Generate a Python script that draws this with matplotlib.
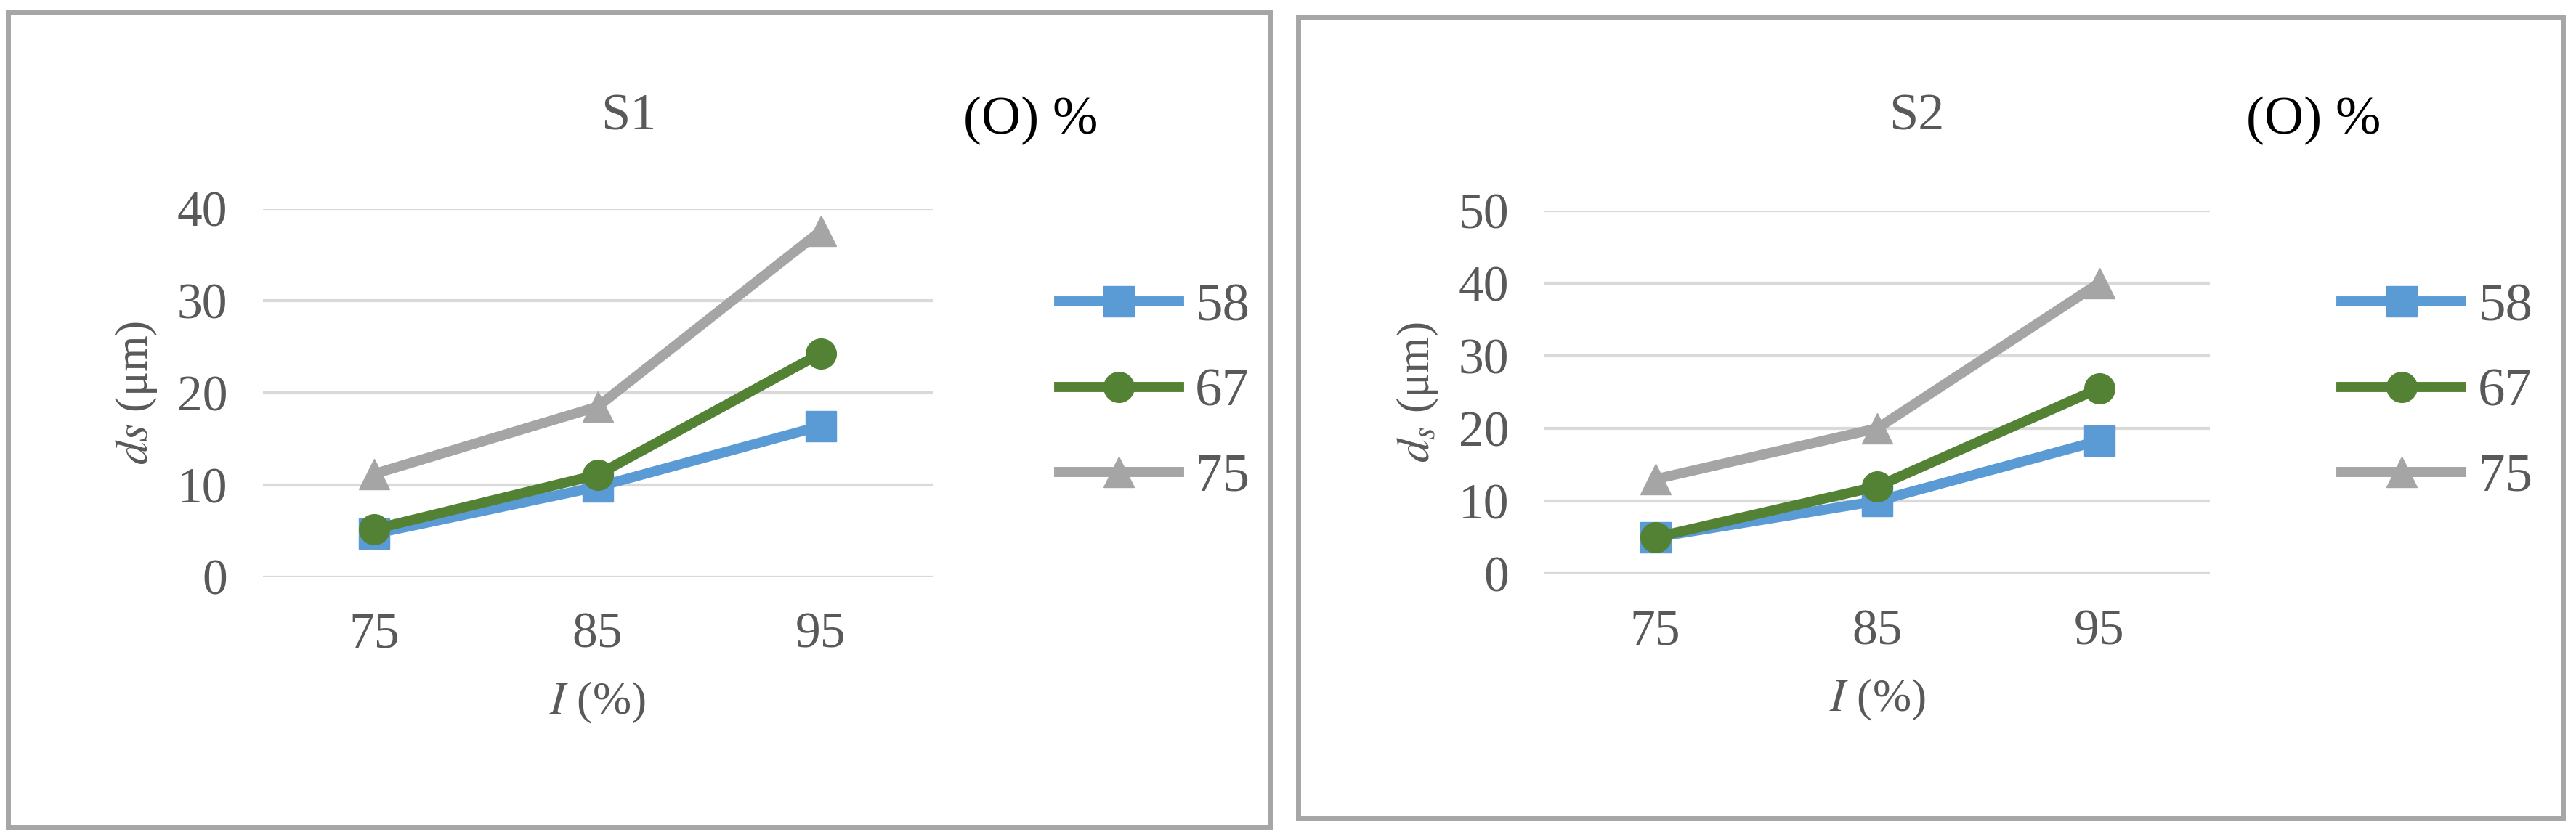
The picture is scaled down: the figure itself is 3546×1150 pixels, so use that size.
import matplotlib
matplotlib.use("Agg")
import matplotlib.pyplot as plt
from matplotlib.patches import Rectangle

plt.rcParams['font.family'] = ['Liberation Serif', 'DejaVu Serif']
plt.rcParams['mathtext.fontset'] = 'stix'

categories = ['75', '85', '95']
series_names = ['58', '67', '75']
s1_values = [[4.7, 9.8, 16.4], [5.2, 11.1, 24.3], [11.2, 18.5, 37.6]]
s2_values = [[5.0, 10.0, 18.3], [5.0, 12.0, 25.5], [13.0, 20.0, 40.0]]

colors = ['#5B9BD5', '#548235', '#A5A5A5']
markers = ['s', 'o', '^']
txt = '#595959'

fig = plt.figure(figsize=(35.46, 11.5), dpi=100)

panels = [
    dict(vals=s1_values, title='S1', ylabel='$ds$ (μm)', ymax=40,
         box=(0.003, 0.01, 0.49, 0.975), ax=(0.102, 0.309, 0.26, 0.441),
         title_x=0.244, head_x=0.374, leg_x=0.392),
    dict(vals=s2_values, title='S2', ylabel='$d_s$ (μm)', ymax=50,
         box=(0.504, 0.02, 0.491, 0.96), ax=(0.5995, 0.313, 0.2585, 0.435),
         title_x=0.744, head_x=0.872, leg_x=0.89),
]

for p in panels:
    fig.add_artist(Rectangle(p['box'][:2], p['box'][2], p['box'][3],
                             transform=fig.transFigure, fill=False,
                             edgecolor='#A6A6A6', linewidth=5))
    ax = fig.add_axes(p['ax'])
    x = range(len(categories))
    for vals, name, c, m in zip(p['vals'], series_names, colors, markers):
        ax.plot(x, vals, color=c, marker=m, lw=10, ms=30, label=name)
    ax.set_xlim(-0.5, 2.5)
    ax.set_ylim(0, p['ymax'])
    ax.set_yticks(range(0, p['ymax'] + 1, 10))
    ax.set_xticks(list(x))
    ax.set_xticklabels(categories)
    ax.grid(axis='y', color='#D9D9D9', lw=3)
    ax.set_axisbelow(True)
    for s in ax.spines.values():
        s.set_visible(False)
    ax.tick_params(length=0, labelsize=50, labelcolor=txt, pad=35)
    ax.set_ylabel(p['ylabel'], fontsize=46, color=txt, labelpad=18)
    ax.set_xlabel('$I$ (%)', fontsize=46, color=txt, labelpad=22)
    fig.text(p['title_x'], 0.86, p['title'], fontsize=52, color=txt, ha='center', va='center')
    fig.text(p['head_x'], 0.855, '(O) %', fontsize=54, color='black', ha='left', va='center')
    ax.legend(loc='center left', bbox_to_anchor=(p['leg_x'], 0.53),
              bbox_transform=fig.transFigure, frameon=False, fontsize=54,
              labelcolor=txt, handlelength=2.2, labelspacing=0.65,
              handletextpad=0.3)

fig.savefig('out.png', dpi=100, facecolor='white')
